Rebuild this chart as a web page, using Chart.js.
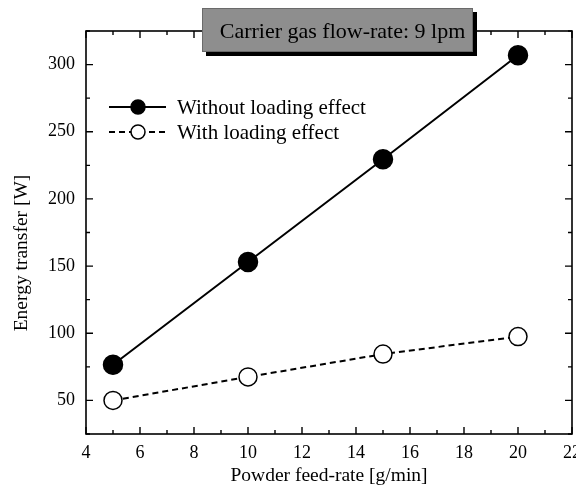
<!DOCTYPE html>
<html>
<head>
<meta charset="utf-8">
<script src="https://cdn.jsdelivr.net/npm/chart.js@4/dist/chart.umd.min.js"></script>
<style>
  html, body { margin: 0; padding: 0; background: #fff; }
  #wrap { width: 576px; height: 488px; }
</style>
</head>
<body>
<div id="wrap"><canvas id="c" width="576" height="488"></canvas></div>
<script>
// Powder feed-rate [g/min]
const feedRate = [5, 10, 15, 20];
// Energy transfer [W]
const withoutLoading = [76.5, 153, 229.5, 307];
const withLoading = [50, 67.5, 84.5, 97.5];

const xTicks = [4, 6, 8, 10, 12, 14, 16, 18, 20, 22];
const yTicks = [50, 100, 150, 200, 250, 300];
const xMinor = [4, 5, 6, 7, 8, 9, 10, 11, 12, 13, 14, 15, 16, 17, 18, 19, 20, 21, 22];
const yMinor = [25, 50, 75, 100, 125, 150, 175, 200, 225, 250, 275, 300, 325];

const seriesNames = ['Without loading effect', 'With loading effect'];
const boxTitle = 'Carrier gas flow-rate: 9 lpm';
const xTitle = 'Powder feed-rate [g/min]';
const yTitle = 'Energy transfer [W]';

const SERIF = '"Liberation Serif", "Times New Roman", serif';

// inward ticks on all four sides plus the frame
const frameTicks = {
  id: 'frameTicks',
  afterDraw(chart) {
    const { ctx, chartArea: a, scales } = chart;
    const xs = scales.x, ys = scales.y;
    ctx.save();
    ctx.strokeStyle = '#000';
    ctx.lineWidth = 1.6;
    ctx.strokeRect(a.left, a.top, a.right - a.left, a.bottom - a.top);
    ctx.lineWidth = 1.4;
    ctx.beginPath();
    xMinor.forEach(v => {
      const px = xs.getPixelForValue(v);
      const len = xTicks.includes(v) ? 7 : 4;
      ctx.moveTo(px, a.bottom); ctx.lineTo(px, a.bottom - len);
      ctx.moveTo(px, a.top); ctx.lineTo(px, a.top + len);
    });
    yMinor.forEach(v => {
      const py = ys.getPixelForValue(v);
      const len = yTicks.includes(v) ? 7 : 4;
      ctx.moveTo(a.left, py); ctx.lineTo(a.left + len, py);
      ctx.moveTo(a.right, py); ctx.lineTo(a.right - len, py);
    });
    ctx.stroke();
    ctx.restore();
  }
};

// vertical axis title, set a little below the plot's middle
const yAxisTitle = {
  id: 'yAxisTitle',
  afterDraw(chart) {
    const { ctx } = chart;
    ctx.save();
    ctx.translate(22, 253);
    ctx.rotate(-Math.PI / 2);
    ctx.fillStyle = '#000';
    ctx.font = '19.5px ' + SERIF;
    ctx.textAlign = 'center';
    ctx.textBaseline = 'middle';
    ctx.fillText(yTitle, 0, 0);
    ctx.restore();
  }
};

// legend inside the plot: line sample with marker, then label
const innerLegend = {
  id: 'innerLegend',
  afterDraw(chart) {
    const { ctx } = chart;
    const rows = [107, 132];
    const x0 = 109, x1 = 166, xm = 138, xt = 177;
    ctx.save();
    chart.data.datasets.forEach((ds, i) => {
      const y = rows[i];
      ctx.strokeStyle = '#000';
      ctx.lineWidth = 2;
      ctx.setLineDash(ds.borderDash || []);
      ctx.beginPath();
      ctx.moveTo(x0, y); ctx.lineTo(x1, y);
      ctx.stroke();
      ctx.setLineDash([]);
      ctx.beginPath();
      ctx.arc(xm, y, 7, 0, Math.PI * 2);
      ctx.fillStyle = ds.pointBackgroundColor;
      ctx.fill();
      ctx.lineWidth = 1.5;
      ctx.stroke();
      ctx.fillStyle = '#000';
      ctx.font = '21px ' + SERIF;
      ctx.textAlign = 'left';
      ctx.textBaseline = 'middle';
      ctx.fillText(ds.label, xt, y + 1);
    });
    ctx.restore();
  }
};

// gray caption box with drop shadow, straddling the top frame
const captionBox = {
  id: 'captionBox',
  afterDraw(chart) {
    const { ctx } = chart;
    const x = 202, y = 8, w = 271, h = 44;
    ctx.save();
    ctx.fillStyle = '#000';
    ctx.fillRect(x + 4, y + 4, w, h);
    ctx.fillStyle = '#8e8e8e';
    ctx.fillRect(x, y, w, h);
    ctx.strokeStyle = '#6a6a6a';
    ctx.lineWidth = 1;
    ctx.strokeRect(x + 0.5, y + 0.5, w - 1, h - 1);
    ctx.fillStyle = '#000';
    ctx.font = '22px ' + SERIF;
    ctx.textAlign = 'center';
    ctx.textBaseline = 'middle';
    ctx.fillText(boxTitle, x + w / 2 + 5, y + h / 2 + 2);
    ctx.restore();
  }
};

new Chart(document.getElementById('c'), {
  type: 'line',
  data: {
    datasets: [
      {
        label: seriesNames[0],
        data: feedRate.map((f, i) => ({ x: f, y: withoutLoading[i] })),
        borderColor: '#000',
        borderWidth: 2,
        pointRadius: 9.5,
        pointBackgroundColor: '#000',
        pointBorderColor: '#000',
        pointBorderWidth: 1.5,
        tension: 0
      },
      {
        label: seriesNames[1],
        data: feedRate.map((f, i) => ({ x: f, y: withLoading[i] })),
        borderColor: '#000',
        borderWidth: 2,
        borderDash: [6, 4],
        pointRadius: 9,
        pointBackgroundColor: '#fff',
        pointBorderColor: '#000',
        pointBorderWidth: 1.5,
        tension: 0
      }
    ]
  },
  options: {
    responsive: false,
    animation: false,
    layout: { autoPadding: false, padding: { top: 31, right: 4, left: 0, bottom: 0 } },
    plugins: { legend: { display: false }, tooltip: { enabled: false }, title: { display: false } },
    scales: {
      x: {
        type: 'linear',
        min: 4, max: 22,
        afterBuildTicks(s) { s.ticks = xTicks.map(v => ({ value: v })); },
        afterFit(s) { s.height = 54; s.paddingLeft = 0; s.paddingRight = 0; },
        grid: { display: false, drawTicks: false },
        border: { display: false },
        ticks: { color: '#000', font: { family: SERIF, size: 18 }, padding: 8, maxRotation: 0, autoSkip: false },
        title: { display: true, text: xTitle, color: '#000', font: { family: SERIF, size: 19.5 }, padding: { top: 0, bottom: 0 } }
      },
      y: {
        min: 25, max: 325,
        afterBuildTicks(s) { s.ticks = yTicks.map(v => ({ value: v })); },
        afterFit(s) { s.width = 86; },
        grid: { display: false, drawTicks: false },
        border: { display: false },
        ticks: { color: '#000', font: { family: SERIF, size: 18 }, padding: 11 },
        title: { display: false }
      }
    }
  },
  plugins: [frameTicks, yAxisTitle, innerLegend, captionBox]
});
</script>
</body>
</html>
